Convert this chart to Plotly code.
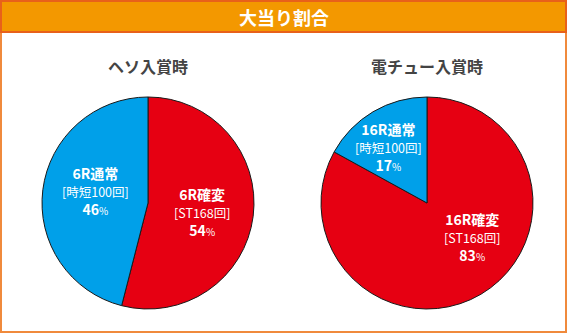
import plotly.graph_objects as go

W, H = 567, 333

title = "大当り割合"
pie_titles = ["ヘソ入賞時", "電チュー入賞時"]

# Per-pie slices (clockwise from 12 o'clock): 確変 first, then 通常
kakuhen_names = ["6R確変", "16R確変"]
tsujo_names = ["6R通常", "16R通常"]
kakuhen_sub = "[ST168回]"
tsujo_sub = "[時短100回]"
kakuhen_pct = [54, 83]
tsujo_pct = [46, 17]

RED = "#E60012"
BLUE = "#00A0E9"

# pie geometry in pixels (center x, center y, radius)
centers = [(148, 203), (427, 203)]
R = 106

# label anchor positions in pixels (middle line): kakuhen, tsujo
kakuhen_pos = [(202, 212), (472, 237)]
tsujo_pos = [(95, 191), (388, 147)]


def px(x):
    return x / W


def py(y):
    return 1 - y / H


fig = go.Figure()

for i, (cx, cy) in enumerate(centers):
    fig.add_trace(go.Pie(
        values=[kakuhen_pct[i], tsujo_pct[i]],
        labels=[kakuhen_names[i], tsujo_names[i]],
        marker=dict(colors=[RED, BLUE], line=dict(color="#1a1a1a", width=1)),
        sort=False,
        direction="clockwise",
        rotation=0,
        textinfo="none",
        hoverinfo="label+percent",
        showlegend=False,
        domain=dict(x=[px(cx - R), px(cx + R)], y=[py(cy + R), py(cy - R)]),
    ))

annotations = []
font_family = "Noto Sans CJK JP, Noto Sans, sans-serif"


def label_block(x, y, name, sub, pct):
    text = (f"<b>{name}</b><br>"
            f"<span style='font-size:12.5px'>{sub}</span><br>"
            f"<b>{pct}</b>"
            f"<span style='font-size:10px'>%</span>")
    return dict(x=px(x), y=py(y), text=text,
                font=dict(size=14, color="white", family=font_family))


for i in range(2):
    annotations.append(label_block(*kakuhen_pos[i], kakuhen_names[i], kakuhen_sub, kakuhen_pct[i]))
    annotations.append(label_block(*tsujo_pos[i], tsujo_names[i], tsujo_sub, tsujo_pct[i]))
    annotations.append(dict(
        x=px(centers[i][0]), y=py(66), text=f"<b>{pie_titles[i]}</b>",
        font=dict(size=16, color="#444444", family=font_family)))

annotations.append(dict(
    x=0.5, y=py(17), text=f"<b>{title}</b>",
    font=dict(size=18, color="white", family=font_family)))

for a in annotations:
    a.update(xref="paper", yref="paper", showarrow=False,
             xanchor="center", yanchor="middle")

shapes = [
    # outer frame
    dict(type="rect", x0=px(1), x1=px(566), y0=py(332), y1=py(1),
         line=dict(color="#F08A3C", width=2), fillcolor="white", layer="below"),
    # header band
    dict(type="rect", x0=px(1), x1=px(566), y0=py(32), y1=py(1),
         line=dict(color="#E8611A", width=2), fillcolor="#F39800", layer="below"),
]

fig.update_layout(
    width=W, height=H,
    margin=dict(l=0, r=0, t=0, b=0),
    paper_bgcolor="white",
    plot_bgcolor="white",
    annotations=annotations,
    shapes=shapes,
)

fig.write_html("out.html")
